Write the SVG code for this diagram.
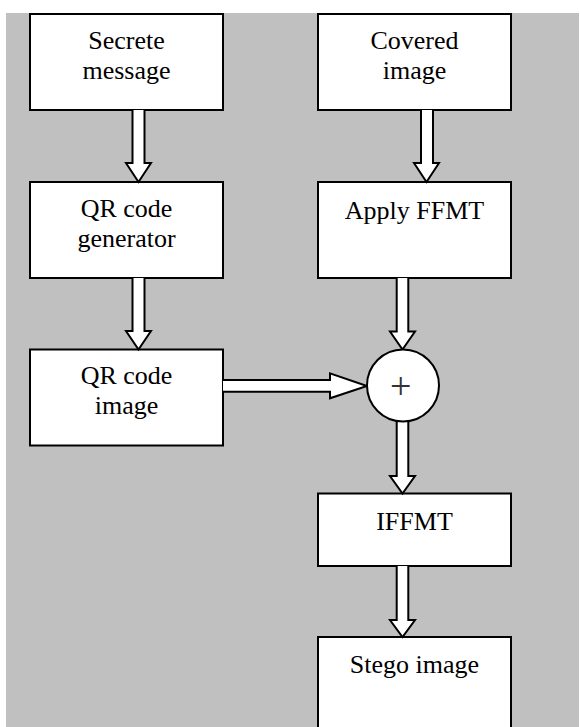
<svg xmlns="http://www.w3.org/2000/svg" width="580" height="727" viewBox="0 0 580 727">
<style>
.box{fill:#fff;stroke:#000;stroke-width:2}
.arr{fill:#fff;stroke:#000;stroke-width:2;stroke-linejoin:miter}
.t{font-family:"Liberation Serif","Times New Roman",serif;font-size:26px;fill:#000;text-anchor:middle}
.plus{font-family:"Liberation Serif","Times New Roman",serif;font-size:38px;fill:#333;text-anchor:middle}
</style>
<rect x="0" y="0" width="580" height="727" fill="#fff"/>
<rect x="6" y="13" width="573" height="714" fill="#c0c0c0"/>
<g id="secrete">
<rect class="box" x="30" y="14" width="193" height="96"/>
<text class="t" x="126.5" y="49">Secrete</text>
<text class="t" x="126.5" y="79">message</text>
</g>
<g id="qrgen">
<rect class="box" x="30" y="182" width="193" height="96"/>
<text class="t" x="126.5" y="217">QR code</text>
<text class="t" x="126.5" y="247">generator</text>
</g>
<g id="qrimage">
<rect class="box" x="30" y="349.5" width="193" height="96"/>
<text class="t" x="126.5" y="384">QR code</text>
<text class="t" x="126.5" y="414">image</text>
</g>
<g id="covered">
<rect class="box" x="318" y="14" width="193" height="96"/>
<text class="t" x="414.5" y="49">Covered</text>
<text class="t" x="414.5" y="79">image</text>
</g>
<g id="ffmt">
<rect class="box" x="318" y="182" width="193" height="96"/>
<text class="t" x="414.5" y="219">Apply FFMT</text>
</g>
<g id="iffmt">
<rect class="box" x="318" y="493.5" width="193" height="72.5"/>
<text class="t" x="414.5" y="530">IFFMT</text>
</g>
<g id="stego">
<rect class="box" x="318" y="637" width="193" height="110"/>
<text class="t" x="414.5" y="673">Stego image</text>
</g>
<g id="connectors">
<path class="arr" d="M132.5,110 V163 H126 L138.5,182 L151,163 H144.5 V110"/>
<path class="arr" d="M132.5,278 V331 H126 L138.5,349.5 L151,331 H144.5 V278"/>
<path class="arr" d="M421,110 V163 H414 L426.5,182 L439,163 H433 V110"/>
<path class="arr" d="M396.7,278 V331.5 H390 L402.5,349.5 L415,331.5 H408.3 V278"/>
<path class="arr" d="M223,380 H330 V373.3 L367,386 L330,398.3 V391.7 H223"/>
<path class="arr" d="M396.7,420 V476 H390 L402.5,493.5 L415,476 H408.3 V420"/>
<path class="arr" d="M396.7,566 V620 H390 L402.5,637 L415,620 H408.3 V566"/>
</g>
<g id="sum">
<circle class="box" cx="403" cy="385.5" r="36"/>
<text class="plus" x="400.7" y="398.5">+</text>
</g>
</svg>
